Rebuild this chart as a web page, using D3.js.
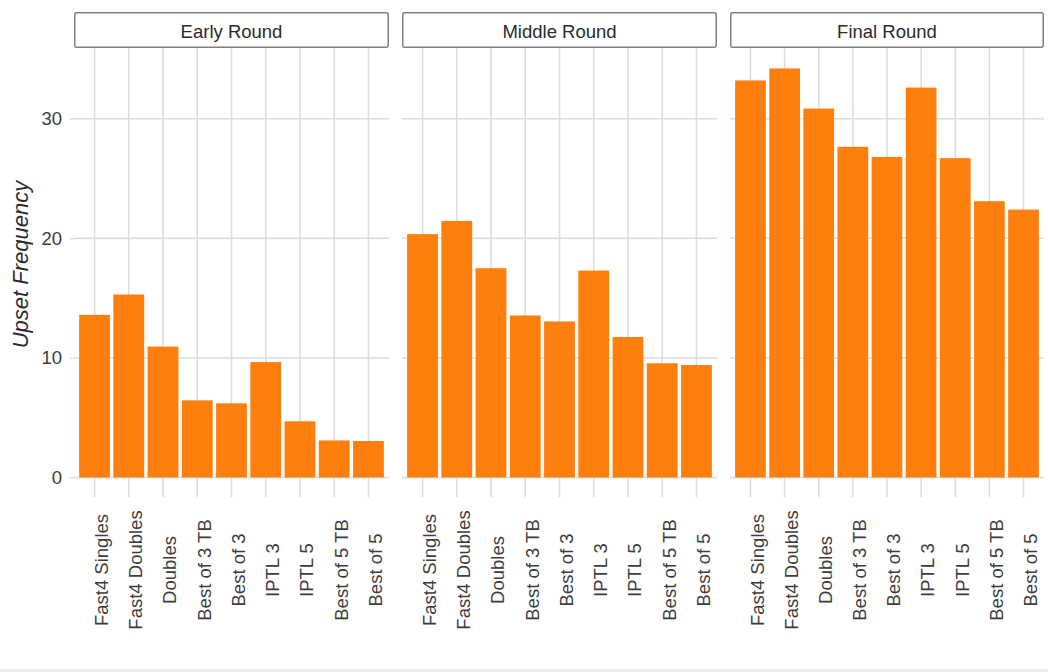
<!DOCTYPE html>
<html>
<head>
<meta charset="utf-8">
<script src="https://cdn.jsdelivr.net/npm/d3@7"></script>
<style>
  html, body { margin: 0; padding: 0; background: #ffffff; }
  svg { display: block; }
  text { font-family: "Liberation Sans", Arial, Helvetica, sans-serif; }
</style>
</head>
<body>
<div id="chart"></div>
<script>
const categories = ["Fast4 Singles", "Fast4 Doubles", "Doubles", "Best of 3 TB", "Best of 3", "IPTL 3", "IPTL 5", "Best of 5 TB", "Best of 5"];
const rounds = ["Early Round", "Middle Round", "Final Round"];
const earlyValues = [13.6, 15.3, 10.95, 6.45, 6.2, 9.65, 4.7, 3.1, 3.05];
const middleValues = [20.35, 21.45, 17.5, 13.55, 13.05, 17.3, 11.75, 9.55, 9.4];
const finalValues = [33.2, 34.2, 30.85, 27.65, 26.8, 32.6, 26.7, 23.1, 22.4];
const yTicks = [0, 10, 20, 30];
const yTitle = "Upset Frequency";

const seriesByRound = [earlyValues, middleValues, finalValues];

const W = 1048, H = 672;
const panelTop = 48, panelBottom = 481;
const stripTop = 12;
const panelX = [[74, 389], [402, 717], [730, 1044]];
const barColor = "#ff7f0e";
const gridColor = "#dcdcdc";

const svg = d3.select("#chart").append("svg")
  .attr("width", W).attr("height", H);

svg.append("rect").attr("x", 0).attr("y", 0).attr("width", W).attr("height", H).attr("fill", "#fff");

const maxVal = d3.max(seriesByRound.flat());
const y = d3.scaleLinear().domain([0, maxVal * 1.05]).range([477.5, panelTop]);

// y axis (left)
const yAxisG = svg.append("g").attr("transform", `translate(${panelX[0][0]},0)`);
yAxisG.call(d3.axisLeft(y).tickValues(yTicks).tickSize(4).tickPadding(8).tickFormat(d3.format("d")));
yAxisG.select(".domain").remove();
yAxisG.selectAll(".tick line").attr("stroke", gridColor).attr("stroke-width", 1.5);
yAxisG.selectAll(".tick text").attr("fill", "#3d3d3d").attr("font-size", 18.5);

svg.append("text")
  .attr("transform", `translate(22,${(panelTop + panelBottom) / 2}) rotate(-90)`)
  .attr("text-anchor", "middle")
  .attr("dominant-baseline", "middle")
  .attr("font-style", "italic")
  .attr("font-size", 22)
  .attr("fill", "#2b2b2b")
  .text(yTitle);

rounds.forEach((round, ri) => {
  const [x0, x1] = panelX[ri];
  const values = seriesByRound[ri];
  const x = d3.scaleBand().domain(categories).range([x0, x1]).paddingInner(0.1).paddingOuter(0.15);
  const g = svg.append("g");

  // horizontal grid
  g.selectAll("line.hgrid").data(yTicks).join("line")
    .attr("x1", x0).attr("x2", x1)
    .attr("y1", d => y(d)).attr("y2", d => y(d))
    .attr("stroke", gridColor).attr("stroke-width", 1.5);

  // vertical grid
  g.selectAll("line.vgrid").data(categories).join("line")
    .attr("x1", d => x(d) + x.bandwidth() / 2).attr("x2", d => x(d) + x.bandwidth() / 2)
    .attr("y1", panelTop).attr("y2", panelBottom)
    .attr("stroke", gridColor).attr("stroke-width", 1.5);

  // bars
  g.selectAll("rect.bar").data(values).join("rect")
    .attr("x", (d, i) => x(categories[i]))
    .attr("width", x.bandwidth())
    .attr("y", d => y(d))
    .attr("height", d => y(0) - y(d))
    .attr("fill", barColor);

  // x axis
  const xAxisG = svg.append("g").attr("transform", `translate(0,${panelBottom})`);
  xAxisG.call(d3.axisBottom(x).tickSize(16).tickPadding(0));
  xAxisG.select(".domain").remove();
  xAxisG.selectAll(".tick line").attr("stroke", gridColor).attr("stroke-width", 1.5);
  xAxisG.selectAll(".tick text")
    .attr("transform", `translate(0,${570 - panelBottom}) rotate(-90)`)
    .attr("x", 0).attr("y", 0).attr("dy", "0.72em")
    .attr("text-anchor", "middle")
    .attr("fill", "#3d3d3d")
    .attr("font-size", 18.5);

  // strip
  g.append("rect")
    .attr("x", x0 + 0.75).attr("y", stripTop + 0.75)
    .attr("width", x1 - x0 - 1.5).attr("height", panelTop - stripTop - 1.5)
    .attr("rx", 2)
    .attr("fill", "#fff").attr("stroke", "#7f7f7f").attr("stroke-width", 1.5);
  g.append("text")
    .attr("x", (x0 + x1) / 2).attr("y", (stripTop + panelTop) / 2 + 1)
    .attr("text-anchor", "middle").attr("dominant-baseline", "central")
    .attr("font-size", 18.5).attr("fill", "#2b2b2b")
    .text(round);
});

svg.append("rect").attr("x", 0).attr("y", 669).attr("width", W).attr("height", 3).attr("fill", "#eeeeee");
</script>
</body>
</html>
